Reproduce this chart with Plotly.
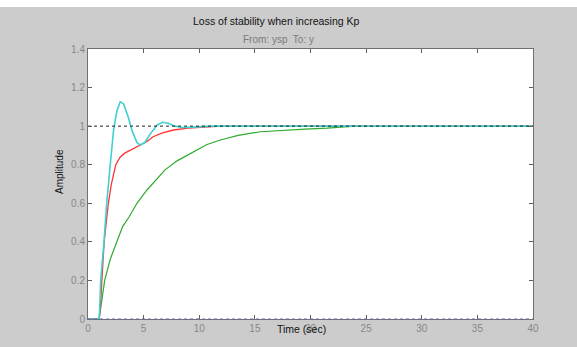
import plotly.graph_objects as go

# ---- data ----
t_cyan = [0, 1, 1.05, 1.14, 1.44, 1.68, 2.0, 2.3, 2.6, 2.9, 3.2, 3.6, 4.0, 4.4, 4.7, 5.1, 5.6, 6.2, 6.7, 7.2, 7.8, 8.5, 9.5, 11, 40]
y_cyan = [0, 0, 0.05, 0.2, 0.4, 0.6, 0.8, 0.98, 1.08, 1.127, 1.115, 1.05, 0.97, 0.915, 0.902, 0.915, 0.96, 1.005, 1.02, 1.015, 1.0, 0.993, 0.995, 1.0, 1.0]

t_red = [0, 1, 1.1, 1.23, 1.45, 1.83, 2.1, 2.5, 2.9, 3.3, 4.0, 4.7, 5.3, 5.85, 6.7, 7.7, 9, 10.5, 11.9, 40]
y_red = [0, 0, 0.05, 0.2, 0.4, 0.6, 0.7, 0.8, 0.84, 0.86, 0.88, 0.9, 0.92, 0.945, 0.965, 0.98, 0.99, 0.995, 1.0, 1.0]

t_green = [1, 1.2, 1.5, 2, 2.6, 3.1, 3.7, 4.4, 5.3, 6.0, 6.9, 8, 9.2, 10.7, 11.9, 13.5, 15.5, 17.3, 19.5, 21.5, 24, 25]
y_green = [0, 0.08, 0.2, 0.31, 0.4, 0.478, 0.53, 0.6, 0.669, 0.715, 0.772, 0.82, 0.859, 0.905, 0.928, 0.952, 0.971, 0.978, 0.985, 0.99, 1.0, 1.0]

ref_t = [0, 40]
ref_one = [1, 1]
ref_zero = [0, 0]

x_ticks = [0, 5, 10, 15, 20, 25, 30, 35, 40]
y_ticks = [0, 0.2, 0.4, 0.6, 0.8, 1, 1.2, 1.4]
y_tick_text = ["0", "0.2", "0.4", "0.6", "0.8", "1", "1.2", "1.4"]

title_text = "Loss of stability when increasing Kp"
subtitle_text = "From: ysp  To: y"
xlabel = "Time (sec)"
ylabel = "Amplitude"

# ---- figure ----
W, H = 577, 347
L, R, T, B = 88, 44, 49, 28
pw, ph = W - L - R, H - T - B

def px(x):
    return (x - L) / pw

def py(y):
    return (H - B - y) / ph

fig = go.Figure()
fig.add_trace(go.Scatter(x=t_green, y=y_green, mode="lines",
                         line=dict(color="#2eaa2e", width=1.2), showlegend=False))
fig.add_trace(go.Scatter(x=t_red, y=y_red, mode="lines",
                         line=dict(color="#ff3333", width=1.3), showlegend=False))
fig.add_trace(go.Scatter(x=t_cyan, y=y_cyan, mode="lines",
                         line=dict(color="#3fd0d0", width=1.6), showlegend=False))
fig.add_trace(go.Scatter(x=ref_t, y=ref_one, mode="lines",
                         line=dict(color="#202020", width=1, dash="3px,3px"), showlegend=False))
fig.add_trace(go.Scatter(x=ref_t, y=ref_zero, mode="lines",
                         line=dict(color="#5a5aee", width=1.2, dash="3px,3px"), showlegend=False))

font_family = "Liberation Sans, Arial, sans-serif"

fig.update_layout(
    width=W, height=H,
    margin=dict(l=L, r=R, t=T, b=B, pad=0),
    paper_bgcolor="#cccccc",
    plot_bgcolor="#ffffff",
    font=dict(family=font_family, size=10, color="#808080"),
    xaxis=dict(range=[0, 40], tickvals=x_ticks, ticks="inside", ticklen=4,
               tickcolor="#606060", mirror="ticks", showline=True, linecolor="#707070",
               linewidth=1, showgrid=False, zeroline=False,
               tickfont=dict(size=10, color="#888888")),
    yaxis=dict(range=[0, 1.4], tickvals=y_ticks, ticktext=y_tick_text, ticks="inside",
               ticklen=4, tickcolor="#606060", mirror="ticks", showline=True,
               linecolor="#707070", linewidth=1, showgrid=False, zeroline=False,
               tickfont=dict(size=10, color="#888888")),
    shapes=[
        dict(type="rect", xref="paper", yref="paper", x0=px(0), x1=px(W),
             y0=py(7), y1=py(-5), fillcolor="#ffffff", line=dict(width=0), layer="above"),
    ],
    annotations=[
        dict(text=title_text, x=px(276), y=py(21), xref="paper", yref="paper",
             showarrow=False, xanchor="center", yanchor="middle",
             font=dict(size=10.5, color="#111111", family=font_family)),
        dict(text=subtitle_text, x=px(278), y=py(39), xref="paper", yref="paper",
             showarrow=False, xanchor="center", yanchor="middle",
             font=dict(size=10, color="#7a7a7a", family=font_family)),
        dict(text=ylabel, x=px(59), y=py(172), xref="paper", yref="paper",
             showarrow=False, xanchor="center", yanchor="middle", textangle=-90,
             font=dict(size=10, color="#111111", family=font_family)),
        dict(text=xlabel, x=px(301), y=py(329), xref="paper", yref="paper",
             showarrow=False, xanchor="center", yanchor="middle",
             font=dict(size=10.5, color="#111111", family=font_family)),
    ],
)

fig.write_html("out.html")
